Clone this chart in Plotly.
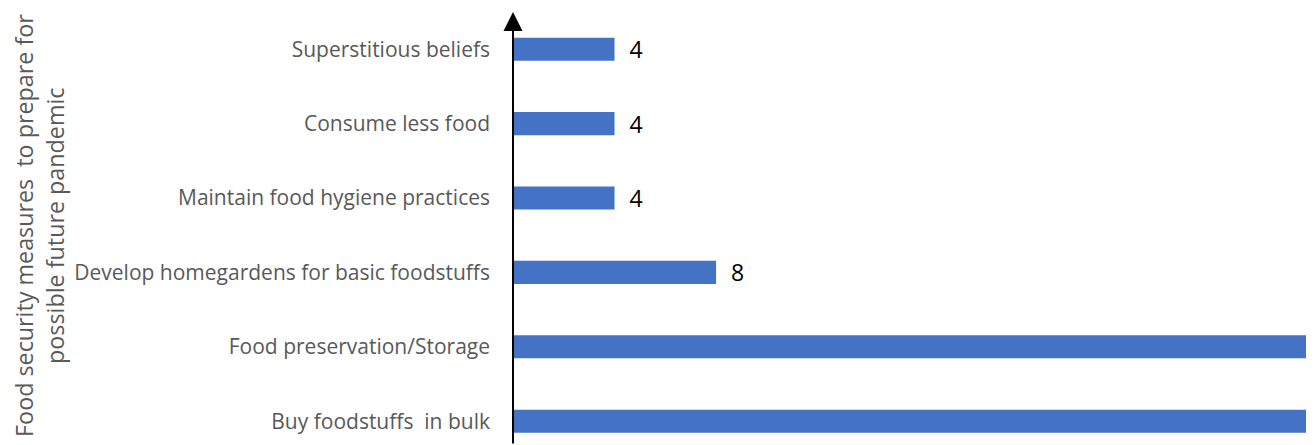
import plotly.graph_objects as go

categories = [
    "Buy foodstuffs  in bulk",
    "Food preservation/Storage",
    "Develop homegardens for basic foodstuffs",
    "Maintain food hygiene practices",
    "Consume less food",
    "Superstitious beliefs",
]
values = [40, 36, 8, 4, 4, 4]
y_title_lines = ["Food security measures  to prepare for", "possible future pandemic"]

X_MAX = 31.4
FONT = "Open Sans"
GREY = "#595959"

# labels of bars running past the visible range are off-picture in the reference
labels = [f"  {v}" if v < X_MAX else "" for v in values]

fig = go.Figure(
    go.Bar(
        y=categories,
        x=values,
        orientation="h",
        marker=dict(color="#4472C4", line=dict(width=0)),
        width=0.31,
        text=labels,
        textposition="outside",
        textfont=dict(family=FONT, size=23, color="black"),
        cliponaxis=True,
        constraintext="none",
    )
)

# the page body adds an 8px offset, so the figure is sized to the visible window
fig.update_layout(
    width=1306,
    height=437,
    margin=dict(l=505, r=4, t=4, b=0, autoexpand=False),
    plot_bgcolor="white",
    paper_bgcolor="white",
    showlegend=False,
    font=dict(family=FONT),
    xaxis=dict(
        range=[0, X_MAX],
        visible=False,
        showgrid=False,
        zeroline=False,
        automargin=False,
    ),
    yaxis=dict(
        categoryorder="array",
        categoryarray=categories,
        range=[-0.32, 5.5],
        showgrid=False,
        zeroline=False,
        showline=False,
        ticks="",
        automargin=False,
        ticklabelstandoff=22,
        tickfont=dict(family=FONT, size=21, color=GREY),
    ),
    annotations=[
        dict(
            xref="x", yref="y domain",
            x=0, y=1, ax=0, ay=0,
            axref="x", ayref="y domain",
            showarrow=True, arrowhead=2, arrowsize=1.9, arrowwidth=2,
            arrowcolor="black", text="",
        ),
        dict(
            xref="paper", yref="paper",
            x=0, y=0.506, xanchor="center", yanchor="middle",
            xshift=-489,
            text=y_title_lines[0], textangle=-90, showarrow=False,
            font=dict(family=FONT, size=23.3, color=GREY),
        ),
        dict(
            xref="paper", yref="paper",
            x=0, y=0.506, xanchor="center", yanchor="middle",
            xshift=-458,
            text=y_title_lines[1], textangle=-90, showarrow=False,
            font=dict(family=FONT, size=23.3, color=GREY),
        ),
    ],
)

fig.write_html("out.html")
